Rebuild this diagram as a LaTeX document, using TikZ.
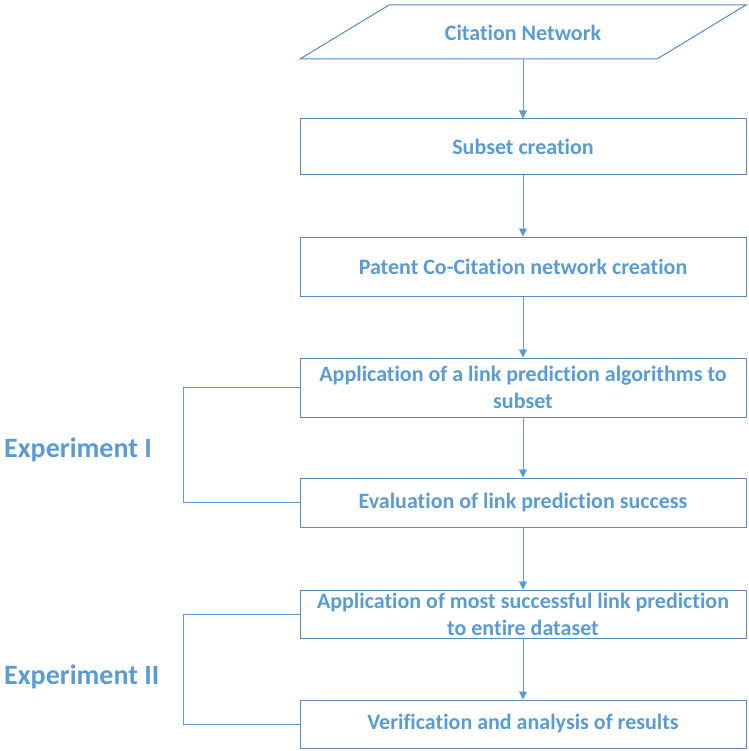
\documentclass[tikz,border=0pt]{standalone}
\usepackage{fontspec}
\setmainfont{Carlito}[Ligatures=NoCommon]
\usetikzlibrary{arrows.meta}
\definecolor{txtblue}{HTML}{5B9BD5}
\definecolor{edgeblue}{HTML}{5A8AC0}
\definecolor{arrblue}{HTML}{5B9BD5}
\tikzset{
  stepbox/.style={draw=edgeblue, line width=1pt, minimum width=446pt, align=center,
    text=txtblue, font=\fontsize{22}{27}\selectfont\bfseries, inner sep=0pt},
  flow/.style={draw=arrblue, line width=0.9pt, -{Triangle[width=8pt,length=8pt]}},
  bracket/.style={draw=arrblue, line width=0.9pt},
  explabel/.style={text=txtblue, font=\fontsize{28}{32}\selectfont\bfseries, anchor=west, inner sep=0pt}
}
\begin{document}
\begin{tikzpicture}[x=1pt,y=-1pt]
\useasboundingbox (0,0) rectangle (748,751);
% parallelogram
\draw[edgeblue, line width=1pt, fill=white] (389,5) -- (746,5) -- (657,59) -- (300,59) -- cycle;
\node[text=txtblue, font=\fontsize{22}{27}\selectfont\bfseries] (cn) at (523,33) {Citation Network};
\coordinate (cnb) at (523,59);
\node[stepbox, minimum height=56pt] (b2) at (523,147) {Subset creation};
\node[stepbox, minimum height=59pt] (b3) at (523,266.5) {Patent Co-Citation network creation};
\node[stepbox, minimum height=59pt] (b4) at (523,387.5) {Application of a link prediction algorithms to\\subset};
\node[stepbox, minimum height=49pt] (b5) at (523,502.5) {Evaluation of link prediction success};
\node[stepbox, minimum height=48pt] (b6) at (523,614) {Application of most successful link prediction\\to entire dataset};
\node[stepbox, minimum height=48pt] (b7) at (523,724) {Verification and analysis of results};
\draw[flow] (cnb) -- (b2.north);
\draw[flow] (b2) -- (b3);
\draw[flow] (b3) -- (b4);
\draw[flow] (b4) -- (b5);
\draw[flow] (b5) -- (b6);
\draw[flow] (b6) -- (b7);
\coordinate (xb) at (183,0);
\draw[bracket] (b4.west) -- (b4.west -| xb) |- (b5.west);
\draw[bracket] (b6.west) -- (b6.west -| xb) |- (b7.west);
\node[explabel] (e1) at (4,450) {Experiment I};
\node[explabel] (e2) at (4,677) {Experiment II};
\end{tikzpicture}
\end{document}
